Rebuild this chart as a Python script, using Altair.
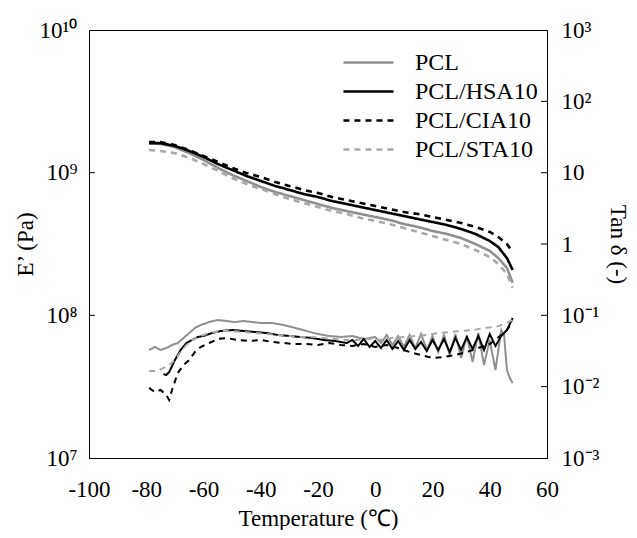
import altair as alt
import pandas as pd

series = ["PCL", "PCL/HSA10", "PCL/CIA10", "PCL/STA10"]
colors = ["#8f8f8f", "#000000", "#000000", "#a8a8a8"]
dashes = [[1, 0], [1, 0], [6, 5], [6, 5]]

# Storage modulus E' (Pa)
T_E = [-79, -75, -70, -65, -60, -55, -50, -45, -40, -35, -30, -25, -20, -15, -10, -5,
       0, 5, 10, 15, 20, 25, 30, 35, 40, 43, 46, 48]
E_PCL = [1.61e9, 1.59e9, 1.51e9, 1.37e9, 1.23e9, 1.08e9, 9.64e8, 8.75e8, 7.94e8, 7.33e8,
         6.86e8, 6.43e8, 6.03e8, 5.65e8, 5.38e8, 5.13e8, 4.89e8, 4.66e8, 4.37e8, 4.16e8,
         3.90e8, 3.72e8, 3.48e8, 3.16e8, 2.83e8, 2.52e8, 2.15e8, 1.69e8]
E_HSA = [1.61e9, 1.61e9, 1.54e9, 1.42e9, 1.29e9, 1.15e9, 1.045e9, 9.48e8, 8.75e8, 8.07e8,
         7.57e8, 7.08e8, 6.75e8, 6.32e8, 6.03e8, 5.74e8, 5.47e8, 5.21e8, 4.97e8, 4.73e8,
         4.51e8, 4.30e8, 4.03e8, 3.72e8, 3.32e8, 3.01e8, 2.52e8, 2.08e8]
E_CIA = [1.64e9, 1.64e9, 1.56e9, 1.44e9, 1.31e9, 1.19e9, 1.08e9, 9.95e8, 9.33e8, 8.61e8,
         8.07e8, 7.57e8, 7.20e8, 6.75e8, 6.43e8, 6.12e8, 5.83e8, 5.56e8, 5.30e8, 5.13e8,
         4.89e8, 4.66e8, 4.44e8, 4.16e8, 3.84e8, 3.54e8, 3.16e8, 2.78e8]
E_STA = [1.44e9, 1.42e9, 1.37e9, 1.27e9, 1.15e9, 1.03e9, 9.18e8, 8.34e8, 7.69e8, 7.08e8,
         6.53e8, 6.12e8, 5.74e8, 5.38e8, 5.13e8, 4.81e8, 4.58e8, 4.37e8, 4.09e8, 3.84e8,
         3.60e8, 3.37e8, 3.16e8, 2.87e8, 2.56e8, 2.29e8, 1.95e8, 1.56e8]

# Loss factor tan delta
T_TAN_PCL = [-79, -77, -75, -73, -71, -69, -67, -65, -63, -61, -58, -55, -52, -49, -46, -43,
             -40, -36, -32, -28, -24, -20, -16, -12, -8, -4, 0, 2, 4, 6, 8, 10, 12, 14, 16,
             18, 20, 22, 24, 26, 28, 30, 32, 34, 36, 38, 40, 42, 44, 45, 46, 47, 48]
TAN_PCL = [0.0327, 0.0360, 0.0327, 0.0348, 0.0384, 0.0409, 0.0481, 0.0565, 0.0664, 0.0732,
           0.0806, 0.0860, 0.0833, 0.0806, 0.0833, 0.0806, 0.0780, 0.0780, 0.0732, 0.0664,
           0.0603, 0.0547, 0.0513, 0.0497, 0.0513, 0.0466, 0.0497, 0.0409, 0.0530, 0.0384,
           0.0513, 0.0360, 0.0530, 0.0348, 0.0547, 0.0327, 0.0513, 0.0306, 0.0530, 0.0278,
           0.0547, 0.0252, 0.0513, 0.0222, 0.0565, 0.0201, 0.0451, 0.0171, 0.0622, 0.0530,
           0.0171, 0.0132, 0.0112]
T_TAN_HSA = [-74, -73, -72, -70, -68, -66, -64, -62, -60, -57, -54, -50, -46, -42, -38, -34,
             -30, -26, -22, -18, -14, -10, -8, -6, -4, -2, 0, 2, 4, 6, 8, 10, 12, 14, 16, 18,
             20, 22, 24, 26, 28, 30, 32, 34, 36, 38, 40, 42, 44, 46, 48]
TAN_HSA = [0.0150, 0.0146, 0.0160, 0.0236, 0.0327, 0.0409, 0.0451, 0.0497, 0.0513, 0.0565,
           0.0603, 0.0622, 0.0603, 0.0584, 0.0565, 0.0530, 0.0513, 0.0497, 0.0481, 0.0451,
           0.0437, 0.0409, 0.0451, 0.0372, 0.0466, 0.0360, 0.0437, 0.0348, 0.0451, 0.0337,
           0.0437, 0.0327, 0.0451, 0.0337, 0.0423, 0.0316, 0.0451, 0.0327, 0.0466, 0.0306,
           0.0481, 0.0327, 0.0497, 0.0337, 0.0513, 0.0327, 0.0547, 0.0372, 0.0513, 0.0622,
           0.0917]
T_TAN_CIA = [-79, -77, -75, -73, -72, -71, -69, -67, -65, -63, -61, -58, -55, -52, -48, -44,
             -40, -36, -32, -28, -24, -20, -16, -12, -8, -4, 0, 4, 8, 12, 16, 20, 24, 28, 32,
             36, 40, 44, 46, 48]
TAN_CIA = [0.0096, 0.0084, 0.0090, 0.0076, 0.0065, 0.0090, 0.0155, 0.0201, 0.0236, 0.0306,
           0.0360, 0.0409, 0.0466, 0.0481, 0.0451, 0.0437, 0.0451, 0.0423, 0.0409, 0.0396,
           0.0396, 0.0384, 0.0409, 0.0384, 0.0372, 0.0396, 0.0360, 0.0384, 0.0348, 0.0306,
           0.0278, 0.0252, 0.0261, 0.0278, 0.0306, 0.0348, 0.0396, 0.0530, 0.0622, 0.0806]
T_TAN_STA = [-79, -76, -74, -72, -70, -68, -66, -64, -61, -58, -54, -50, -46, -42, -38, -34,
             -30, -26, -22, -18, -14, -10, -6, -2, 2, 6, 10, 14, 18, 22, 26, 30, 34, 38, 42,
             45, 48]
TAN_STA = [0.0166, 0.0166, 0.0183, 0.0201, 0.0236, 0.0306, 0.0384, 0.0451, 0.0513, 0.0565,
           0.0603, 0.0603, 0.0584, 0.0565, 0.0547, 0.0530, 0.0513, 0.0497, 0.0497, 0.0481,
           0.0466, 0.0451, 0.0451, 0.0466, 0.0451, 0.0481, 0.0497, 0.0513, 0.0530, 0.0565,
           0.0584, 0.0603, 0.0622, 0.0664, 0.0686, 0.0755, 0.0860]

x_ticks = [-100, -80, -60, -40, -20, 0, 20, 40, 60]
e_ticks = [1e7, 1e8, 1e9, 1e10]
tan_ticks = [1e-3, 1e-2, 1e-1, 1, 10, 100, 1000]

FONT = "Liberation Serif, Times New Roman, serif"
W, H = 458, 428

rows_e = []
for name, vals in zip(series, [E_PCL, E_HSA, E_CIA, E_STA]):
    for t, v in zip(T_E, vals):
        rows_e.append({"T": t, "E": v, "series": name})
df_e = pd.DataFrame(rows_e)

rows_t = []
for name, ts, vals in zip(series, [T_TAN_PCL, T_TAN_HSA, T_TAN_CIA, T_TAN_STA],
                          [TAN_PCL, TAN_HSA, TAN_CIA, TAN_STA]):
    for t, v in zip(ts, vals):
        rows_t.append({"T": t, "tan": v, "series": name})
df_t = pd.DataFrame(rows_t)

e_scale = alt.Scale(type="log", domain=[1e7, 1e10], nice=False)
t_scale = alt.Scale(type="log", domain=[1e-3, 1e3], nice=False)
x_scale = alt.Scale(domain=[-100, 60], nice=False, zero=False)
color = alt.Color("series:N", sort=series, scale=alt.Scale(domain=series, range=colors),
                  legend=alt.Legend(title=None))
dash = alt.StrokeDash("series:N", sort=series, scale=alt.Scale(domain=series, range=dashes),
                      legend=alt.Legend(title=None))

x_enc = alt.X("T:Q", scale=x_scale,
              axis=alt.Axis(values=x_ticks, labelExpr="'' + datum.value", ticks=False,
                            grid=False, labelPadding=20, labelFlush=False, labelOverlap=False,
                            title="Temperature (℃)", titleY=60, titleBaseline="middle"))

e_label = ("datum.value >= 5e9 ? '10¹⁰' : datum.value >= 5e8 ? '10⁹' : "
           "datum.value >= 5e7 ? '10⁸' : '10⁷'")
t_label = ("datum.value >= 500 ? '10³' : datum.value >= 50 ? '10²' : datum.value >= 5 ? '10' : "
           "datum.value >= 0.5 ? '1' : datum.value >= 0.05 ? '10⁻¹' : "
           "datum.value >= 0.005 ? '10⁻²' : '10⁻³'")

e_layer = alt.Chart(df_e).mark_line(strokeWidth=2.6).encode(
    x=x_enc,
    y=alt.Y("E:Q", scale=e_scale,
            axis=alt.Axis(orient="left", values=e_ticks, labelExpr=e_label, ticks=False,
                          grid=False, labelPadding=12, labelFlush=False, labelOverlap=False,
                          title="E’ (Pa)",
                          titleX=-64, titleY=H / 2, titleBaseline="middle")),
    color=color, strokeDash=dash, order=alt.Order("series:N")
)

t_layer = alt.Chart(df_t).mark_line(strokeWidth=2.0).encode(
    x=alt.X("T:Q", scale=x_scale),
    y=alt.Y("tan:Q", scale=t_scale,
            axis=alt.Axis(orient="right", values=tan_ticks, labelExpr=t_label, ticks=False,
                          grid=False, labelPadding=14, labelFlush=False, labelOverlap=False,
                          title="Tan δ (-)",
                          titleX=70, titleY=H / 2, titleBaseline="middle", titleAngle=90)),
    color=color, strokeDash=dash
)

left_tick_df = pd.DataFrame({"v": [1e8, 1e9]})
left_ticks = alt.Chart(left_tick_df).mark_rule(color="black", strokeWidth=1).encode(
    x=alt.value(0), x2=alt.value(6),
    y=alt.Y("v:Q", scale=e_scale, axis=None)
)
right_tick_df = pd.DataFrame({"v": [1e-2, 1e-1, 1, 10, 100]})
right_ticks = alt.Chart(right_tick_df).mark_rule(color="black", strokeWidth=1).encode(
    x=alt.value(W - 6), x2=alt.value(W),
    y=alt.Y("v:Q", scale=t_scale, axis=None)
)

chart = alt.layer(e_layer, t_layer, left_ticks, right_ticks).resolve_scale(
    y="independent"
).properties(
    width=W, height=H,
    autosize=alt.AutoSizeParams(type="none"),
    padding={"left": 81, "top": 22, "right": 82, "bottom": 72},
).configure_view(
    stroke="black", strokeWidth=1
).configure_axis(
    domainColor="black", domainWidth=1,
    labelFont=FONT, labelFontSize=23, labelColor="black",
    titleFont=FONT, titleFontSize=23, titleColor="black", titleFontWeight="normal",
).configure_legend(
    orient="none", legendX=263, legendY=16, padding=0,
    symbolType="M-1.67,0H1.67", symbolSize=900, symbolStrokeWidth=2.6,
    labelFont=FONT, labelFontSize=24, labelColor="black", labelOffset=30,
    rowPadding=0, labelLimit=300,
)

chart.save("out.html", embed_options={"renderer": "svg", "actions": False})
